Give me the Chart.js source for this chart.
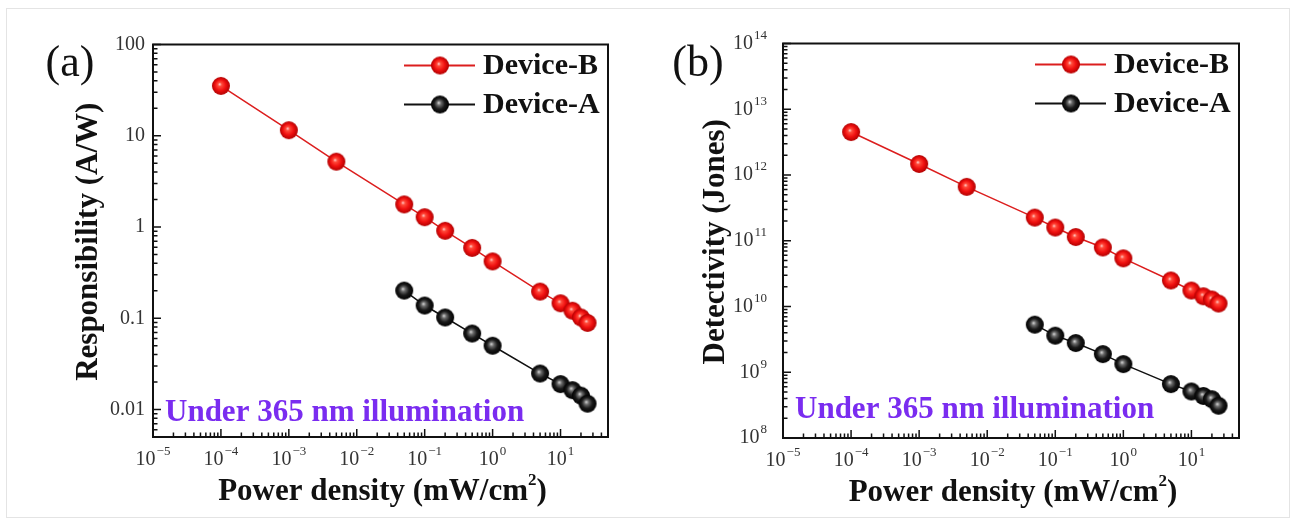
<!DOCTYPE html>
<html>
<head>
<meta charset="utf-8">
<title>Responsibility and detectivity vs power density</title>
<script src="https://cdn.jsdelivr.net/npm/chart.js@4.4.1/dist/chart.umd.min.js"></script>
<style>
  html, body { margin: 0; padding: 0; background: #fff; }
  #wrap { position: relative; width: 1300px; height: 524px; overflow: hidden; }
  #wrap canvas { position: absolute; top: 0; }
  #panel-a { left: 0; }
  #panel-b { left: 650px; }
  #edge { position: absolute; left: 6px; top: 8px; width: 1282px; height: 508px; border: 1px solid #e4e4e4; }
</style>
</head>
<body>
<div id="wrap">
  <div id="edge"></div>
  <canvas id="panel-a" width="650" height="524"></canvas>
  <canvas id="panel-b" width="650" height="524"></canvas>
</div>
<script>
// ── Data ─────────────────────────────────────────────────────────────────

const powerB = [1e-4, 1e-3, 5e-3, 0.05, 0.1, 0.2, 0.5, 1, 5, 10, 15, 20, 25];
const powerA = [0.05, 0.1, 0.2, 0.5, 1, 5, 10, 15, 20, 25];

const respB = [35.2, 11.5, 5.2, 1.77, 1.28, 0.91, 0.59, 0.42, 0.196, 0.146, 0.121, 0.102, 0.089];
const respA = [0.201, 0.138, 0.102, 0.068, 0.05, 0.0248, 0.019, 0.0163, 0.0142, 0.0116];

const detB = [4.5e12, 1.47e12, 6.6e11, 2.25e11, 1.59e11, 1.14e11, 7.9e10, 5.4e10, 2.49e10, 1.75e10, 1.43e10, 1.28e10, 1.11e10];
const detA = [5.3e9, 3.6e9, 2.78e9, 1.89e9, 1.33e9, 6.6e8, 5.1e8, 4.36e8, 3.89e8, 3.1e8];

const xTickExps = [-5, -4, -3, -2, -1, 0, 1];
const respTickValues = [100, 10, 1, 0.1, 0.01];
const respTickLabels = ["100", "10", "1", "0.1", "0.01"];
const detTickExps = [8, 9, 10, 11, 12, 13, 14];

const seriesNames = ["Device-B", "Device-A"];

const SERIF = '"Liberation Serif", "Times New Roman", serif';
const RED = "#dc1e1e";
const INK = "#111";

// ── Sphere markers ───────────────────────────────────────────────────────

function sphere(r, stops) {
  const c = document.createElement("canvas");
  c.width = c.height = r * 2 + 2;
  const g = c.getContext("2d");
  const cx = r + 1, cy = r + 1;
  const grad = g.createRadialGradient(cx - r * 0.15, cy - r * 0.2, 0, cx, cy, r);
  stops.forEach(([o, col]) => grad.addColorStop(o, col));
  g.fillStyle = grad;
  g.beginPath();
  g.arc(cx, cy, r, 0, Math.PI * 2);
  g.fill();
  return c;
}

const redBall = sphere(9, [[0, "#ffd6d6"], [0.22, "#ff4a3a"], [0.6, "#f01010"], [1, "#b00000"]]);
const blackBall = sphere(9, [[0, "#dcdcdc"], [0.25, "#6a6a6a"], [0.6, "#1a1a1a"], [1, "#000"]]);

// ── Drawing helpers ──────────────────────────────────────────────────────

function pts(xs, ys) {
  return xs.map((x, i) => ({ x, y: ys[i] }));
}

function drawPow(ctx, exp, x, y, align) {
  const base = "10";
  const sup = exp < 0 ? "\u2212" + -exp : String(exp);
  ctx.font = `20px ${SERIF}`;
  const bw = ctx.measureText(base).width;
  ctx.font = `13px ${SERIF}`;
  const sw = ctx.measureText(sup).width;
  const total = bw + 1 + sw;
  const x0 = align === "center" ? x - total / 2 : x - total;
  ctx.textAlign = "left";
  ctx.textBaseline = "middle";
  ctx.font = `20px ${SERIF}`;
  ctx.fillText(base, x0, y);
  ctx.font = `13px ${SERIF}`;
  ctx.fillText(sup, x0 + bw + 1, y - 8);
}

function logTicks(min, max) {
  const out = [];
  for (let d = Math.floor(Math.log10(min)); d <= Math.ceil(Math.log10(max)); d++) {
    for (let m = 1; m <= 9; m++) {
      const v = m * Math.pow(10, d);
      if (v >= min * 0.999 && v <= max * 1.001) out.push({ v, major: m === 1 });
    }
  }
  return out;
}

// frame, inward ticks, tick labels, titles, legend and notes
const panelDecor = {
  id: "panelDecor",
  afterDraw(chart, args, o) {
    const { ctx, chartArea: a } = chart;
    const xs = chart.scales.x, ys = chart.scales.y;
    ctx.save();

    // ticks
    ctx.strokeStyle = INK;
    ctx.lineWidth = 1.5;
    ctx.beginPath();
    logTicks(xs.min, xs.max).forEach((t) => {
      const px = xs.getPixelForValue(t.v);
      ctx.moveTo(px, a.bottom);
      ctx.lineTo(px, a.bottom - (t.major ? 8 : 4.5));
    });
    logTicks(ys.min, ys.max).forEach((t) => {
      const py = ys.getPixelForValue(t.v);
      ctx.moveTo(a.left, py);
      ctx.lineTo(a.left + (t.major ? 8 : 4.5), py);
    });
    ctx.stroke();

    // frame
    ctx.lineWidth = 2;
    ctx.strokeRect(a.left, a.top, a.right - a.left, a.bottom - a.top);

    // tick labels
    ctx.fillStyle = "#333";
    xTickExps.forEach((e) => {
      drawPow(ctx, e, xs.getPixelForValue(Math.pow(10, e)), a.bottom + 23, "center");
    });
    if (o.yPow) {
      o.yExps.forEach((e) => {
        drawPow(ctx, e, a.left - 16, ys.getPixelForValue(Math.pow(10, e)), "right");
      });
    } else {
      ctx.font = `20px ${SERIF}`;
      ctx.textAlign = "right";
      ctx.textBaseline = "middle";
      o.yValues.forEach((v, i) => ctx.fillText(o.yLabels[i], a.left - 8, ys.getPixelForValue(v)));
    }

    // axis titles
    ctx.fillStyle = INK;
    ctx.font = `bold 31px ${SERIF}`;
    ctx.textBaseline = "middle";
    const t1 = "Power density (mW/cm", t2 = ")";
    const w1 = ctx.measureText(t1).width, w2 = ctx.measureText(t2).width;
    ctx.font = `bold 17px ${SERIF}`;
    const ws = ctx.measureText("2").width;
    const tx = (a.left + a.right) / 2 + 2 - (w1 + ws + w2) / 2;
    const ty = a.bottom + 55;
    ctx.textAlign = "left";
    ctx.font = `bold 31px ${SERIF}`;
    ctx.fillText(t1, tx, ty);
    ctx.font = `bold 17px ${SERIF}`;
    ctx.fillText("2", tx + w1, ty - 11);
    ctx.font = `bold 31px ${SERIF}`;
    ctx.fillText(t2, tx + w1 + ws, ty);

    ctx.save();
    ctx.translate(o.yTitleX, (a.top + a.bottom) / 2 + 1);
    ctx.rotate(-Math.PI / 2);
    ctx.textAlign = "center";
    ctx.fillText(o.yTitle, 0, 0);
    ctx.restore();

    // panel letter
    ctx.font = `44px ${SERIF}`;
    ctx.textAlign = "center";
    ctx.fillText(o.letter, o.letterX, 64);

    // legend
    [[RED, redBall], [INK, blackBall]].forEach(([col, img], i) => {
      const ly = a.top + 21 + i * 39;
      ctx.strokeStyle = col;
      ctx.lineWidth = 2;
      ctx.beginPath();
      ctx.moveTo(a.right - 204, ly);
      ctx.lineTo(a.right - 133, ly);
      ctx.stroke();
      ctx.drawImage(img, a.right - 168 - img.width / 2, ly - img.height / 2);
      ctx.fillStyle = INK;
      ctx.font = `bold 30px ${SERIF}`;
      ctx.textAlign = "left";
      ctx.fillText(seriesNames[i], a.right - 125, ly + 1);
    });

    // illumination note
    ctx.fillStyle = "#7a2cf0";
    ctx.font = `bold 31px ${SERIF}`;
    ctx.textAlign = "left";
    ctx.fillText("Under 365 nm illumination", a.left + 12, o.noteY);

    ctx.restore();
  },
};

// ── Panels ───────────────────────────────────────────────────────────────

function makePanel(id, yB, yA, yMin, yMax, padding, decor) {
  const line = (name, data, col, img) => ({
    label: name,
    data,
    borderColor: col,
    borderWidth: 1.5,
    pointStyle: img,
    pointRadius: 9,
    tension: 0,
    fill: false,
  });
  return new Chart(document.getElementById(id), {
    type: "line",
    data: {
      datasets: [
        line(seriesNames[1], pts(powerA, yA), INK, blackBall),
        line(seriesNames[0], pts(powerB, yB), RED, redBall),
      ],
    },
    options: {
      responsive: false,
      animation: false,
      layout: { padding },
      scales: {
        x: { type: "logarithmic", min: 1e-5, max: 50, display: false },
        y: { type: "logarithmic", min: yMin, max: yMax, display: false },
      },
      plugins: {
        legend: { display: false },
        tooltip: { enabled: false },
        panelDecor: decor,
      },
    },
    plugins: [panelDecor],
  });
}

makePanel("panel-a", respB, respA, 0.005, 100,
  { left: 153, right: 42, top: 44.5, bottom: 87 },
  { letter: "(a)", letterX: 70, yTitle: "Responsibility (A/W)", yTitleX: 89,
    yPow: false, yValues: respTickValues, yLabels: respTickLabels, noteY: 413 });

makePanel("panel-b", detB, detA, 1e8, 1e14,
  { left: 133, right: 61, top: 43.5, bottom: 86 },
  { letter: "(b)", letterX: 48, yTitle: "Detectivity (Jones)", yTitleX: 66,
    yPow: true, yExps: detTickExps, noteY: 410 });
</script>
</body>
</html>
